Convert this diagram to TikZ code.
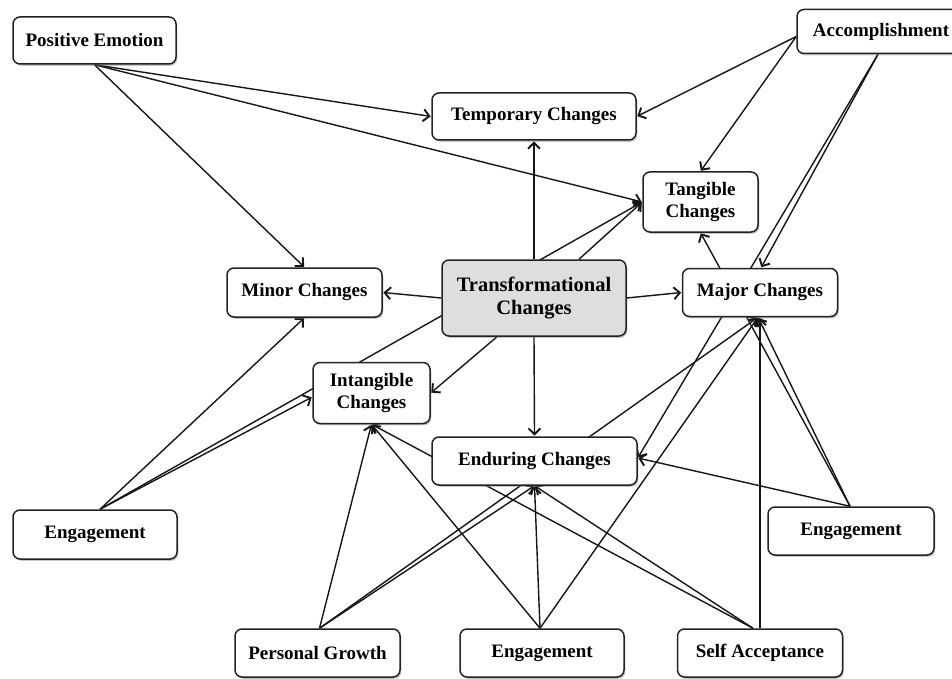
\documentclass[tikz,border=0pt]{standalone}
\usepackage{fontspec}
\setmainfont{Liberation Serif}
\usetikzlibrary{arrows.meta,shadows,backgrounds}
\definecolor{boxline}{HTML}{222222}
\definecolor{linkline}{HTML}{161616}
\definecolor{corefill}{HTML}{DEDEDE}
\begin{document}
\begin{tikzpicture}[x=1pt,y=-1pt,
  box/.style={draw=boxline, line width=1.5pt, fill=white, rounded corners=7pt,
    inner sep=0pt, align=center, font=\bfseries\fontsize{19}{22}\selectfont,
    drop shadow={shadow xshift=1.3pt, shadow yshift=-1.8pt, opacity=0.45}},
  core/.style={box, fill=corefill, font=\bfseries\fontsize{20.5}{23}\selectfont},
  link/.style={draw=linkline, line width=1.4pt, shorten >=0.6pt,
    -{Straight Barb[length=6pt,width=12pt,line width=1.9pt]}},
]
\useasboundingbox (0,0) rectangle (952,679);

% outcome and source boxes
\node[box, minimum width=163pt, minimum height=47pt] (pe)     at (94.5,40.5)  {Positive Emotion};
\node[box, minimum width=204pt, minimum height=47pt] (temp)   at (534,116.5)  {Temporary Changes};
\node[box, minimum width=168pt, minimum height=44pt] (acc)    at (881,31.5)   {Accomplishment};
\node[box, minimum width=115pt, minimum height=60pt] (tang)   at (700.5,202)  {Tangible\\Changes};
\node[core, minimum width=184pt, minimum height=76pt] (trans) at (534,298)    {Transformational\\Changes};
\node[box, minimum width=155pt, minimum height=49pt] (minor)  at (304.5,292.5) {Minor Changes};
\node[box, minimum width=155pt, minimum height=48pt] (major)  at (760,292.5)  {Major Changes};
\node[box, minimum width=117pt, minimum height=61pt] (intang) at (371.5,393)  {Intangible\\Changes};
\node[box, minimum width=205pt, minimum height=48pt] (endur)  at (534.5,461)  {Enduring Changes};
\node[box, minimum width=164pt, minimum height=49pt] (engl)   at (95,534.5)   {Engagement};
\node[box, minimum width=166pt, minimum height=48pt] (engr)   at (851,531)    {Engagement};
\node[box, minimum width=165pt, minimum height=48pt] (pg)     at (317.5,653)  {Personal Growth};
\node[box, minimum width=164pt, minimum height=48pt] (engb)   at (542,653)    {Engagement};
\node[box, minimum width=165pt, minimum height=48pt] (sa)     at (760,653)    {Self Acceptance};

% connectors run behind the boxes
\begin{pgfonlayer}{background}
  % Positive Emotion
  \draw[link] (pe.south) -- (temp.west);
  \draw[link] (pe.south) -- (tang.west);
  \draw[link] (pe.south) -- (minor.north);
  % Accomplishment
  \draw[link] ([yshift=-5pt]acc.west) -- (temp.east);
  \draw[link] ([yshift=-5pt]acc.west) -- (tang.north);
  \draw[link] ([xshift=-3pt]acc.south) -- ([xshift=1pt]major.north);
  \draw[link] ([xshift=-3pt]acc.south) -- ([yshift=3pt]endur.east);
  % Transformational Changes
  \draw[link] (trans.north) -- (temp.south);
  \draw[link] ([xshift=45pt]trans.north) -- (tang.west);
  \draw[link] (trans.west) -- (minor.east);
  \draw[link] (trans.east) -- (major.west);
  \draw[link] (trans.south) -- (endur.north);
  \draw[link] ([xshift=-37pt]trans.south) -- (intang.east);
  % Engagement (left)
  \draw[link] ([xshift=5pt]engl.north) -- (minor.south);
  \draw[link] ([xshift=5pt]engl.north) -- ([yshift=-4pt]intang.west);
  \draw[link] ([xshift=5pt]engl.north) -- (tang.west);
  % Personal Growth
  \draw[link] ([xshift=2pt]pg.north) -- (intang.south);
  \draw[link] ([xshift=2pt]pg.north) -- (endur.south);
  \draw[link] ([xshift=2pt]pg.north) -- ([xshift=-2pt]major.south);
  % Engagement (bottom)
  \draw[link] ([xshift=-2pt]engb.north) -- (intang.south);
  \draw[link] ([xshift=-2pt]engb.north) -- (endur.south);
  \draw[link] ([xshift=-2pt]engb.north) -- ([xshift=-2pt]major.south);
  % Self Acceptance
  \draw[link] ([xshift=-7pt]sa.north) -- (intang.south);
  \draw[link] ([xshift=-7pt]sa.north) -- (endur.south);
  \draw[link] (sa.north) -- (sa.north |- major.south);
  % Engagement (right)
  \draw[link] ([xshift=-1pt]engr.north) -- ([xshift=-2pt]major.south);
  \draw[link] ([xshift=-1pt]engr.north) -- (tang.south);
  \draw[link] ([xshift=-1pt]engr.north) -- ([yshift=3pt]endur.east);
\end{pgfonlayer}
\end{tikzpicture}
\end{document}
